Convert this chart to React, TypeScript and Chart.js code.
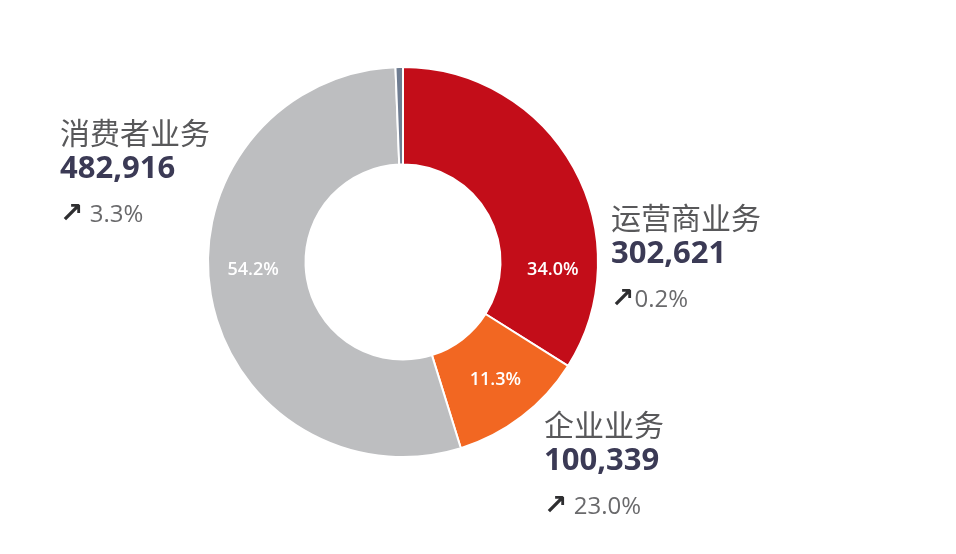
import React, { useEffect, useRef } from "react";
import { Chart, registerables } from "chart.js";

Chart.register(...registerables);

const categories = ["运营商业务", "企业业务", "消费者业务", "其他"];
const revenues = [302621, 100339, 482916, 5492];
const percentLabels = ["34.0%", "11.3%", "54.2%", ""];
const growthLabels = ["0.2%", "23.0%", "3.3%", ""];
const sliceColors = ["#c30d19", "#f26722", "#bdbec0", "#6f7d92"];

const labelAngles = [93, 142, 267, 0];
const labelRadius = 150;

const W = 956;
const H = 554;

const fmt = (v: number) => v.toLocaleString("en-US");

const pctPlugin = {
  id: "pctLabels",
  afterDatasetsDraw(chart: any) {
    const meta = chart.getDatasetMeta(0);
    const ctx = chart.ctx;
    ctx.save();
    ctx.fillStyle = "#ffffff";
    ctx.font = "600 18px 'Open Sans', 'DejaVu Sans', sans-serif";
    ctx.textAlign = "center";
    ctx.textBaseline = "middle";
    meta.data.forEach((arc: any, i: number) => {
      const t = percentLabels[i];
      if (!t) return;
      const a = (labelAngles[i] * Math.PI) / 180;
      const x = arc.x + labelRadius * Math.sin(a);
      const y = arc.y - labelRadius * Math.cos(a);
      ctx.fillText(t, x, y);
    });
    ctx.restore();
  },
};

const titleStyle: React.CSSProperties = {
  fontFamily: "'Noto Sans CJK SC', sans-serif",
  fontSize: 30,
  lineHeight: "36px",
  color: "#58585a",
  whiteSpace: "nowrap",
};
const numStyle: React.CSSProperties = {
  fontFamily: "'Open Sans', sans-serif",
  fontWeight: 700,
  fontSize: 31,
  lineHeight: "34px",
  color: "#3b3a55",
  whiteSpace: "nowrap",
};
const growthStyle: React.CSSProperties = {
  fontFamily: "'Open Sans', sans-serif",
  fontSize: 24,
  lineHeight: "32px",
  color: "#6a6a6c",
  whiteSpace: "nowrap",
};
const arrowStyle: React.CSSProperties = {
  fontFamily: "'DejaVu Sans', sans-serif",
  fontWeight: 700,
  color: "#2e2e30",
  fontSize: 28,
  lineHeight: "32px",
};

function Label(props: { idx: number; left: number; top: number; gap: number; space: boolean }) {
  const { idx, left, top, gap, space } = props;
  return (
    <div style={{ position: "absolute", left, top }}>
      <div style={titleStyle}>{categories[idx]}</div>
      <div style={numStyle}>{fmt(revenues[idx])}</div>
      <div style={{ ...growthStyle, marginTop: gap }}>
        <span style={arrowStyle}>↗</span>
        {space ? " " : ""}
        {growthLabels[idx]}
      </div>
    </div>
  );
}

export default function App() {
  const ref = useRef<HTMLCanvasElement>(null);
  useEffect(() => {
    if (!ref.current) return;
    const chart = new Chart(ref.current, {
      type: "doughnut",
      data: {
        labels: categories,
        datasets: [
          {
            data: revenues,
            backgroundColor: sliceColors,
            borderColor: "#ffffff",
            borderWidth: 2,
          },
        ],
      },
      options: {
        responsive: false,
        animation: false,
        cutout: "50%",
        rotation: 0,
        layout: { padding: { left: 207, right: W - 599, top: 66, bottom: H - 458 } },
        plugins: { legend: { display: false }, tooltip: { enabled: false } },
      },
      plugins: [pctPlugin],
    });
    return () => chart.destroy();
  }, []);
  return (
    <div style={{ position: "absolute", left: 0, top: 0, width: W, height: H, background: "#fff" }}>
      <canvas ref={ref} width={W} height={H} style={{ position: "absolute", left: 0, top: 0 }} />
      <Label idx={2} left={60} top={113} gap={14} space={true} />
      <Label idx={0} left={611} top={198} gap={14} space={false} />
      <Label idx={1} left={544} top={405} gap={14} space={true} />
    </div>
  );
}
